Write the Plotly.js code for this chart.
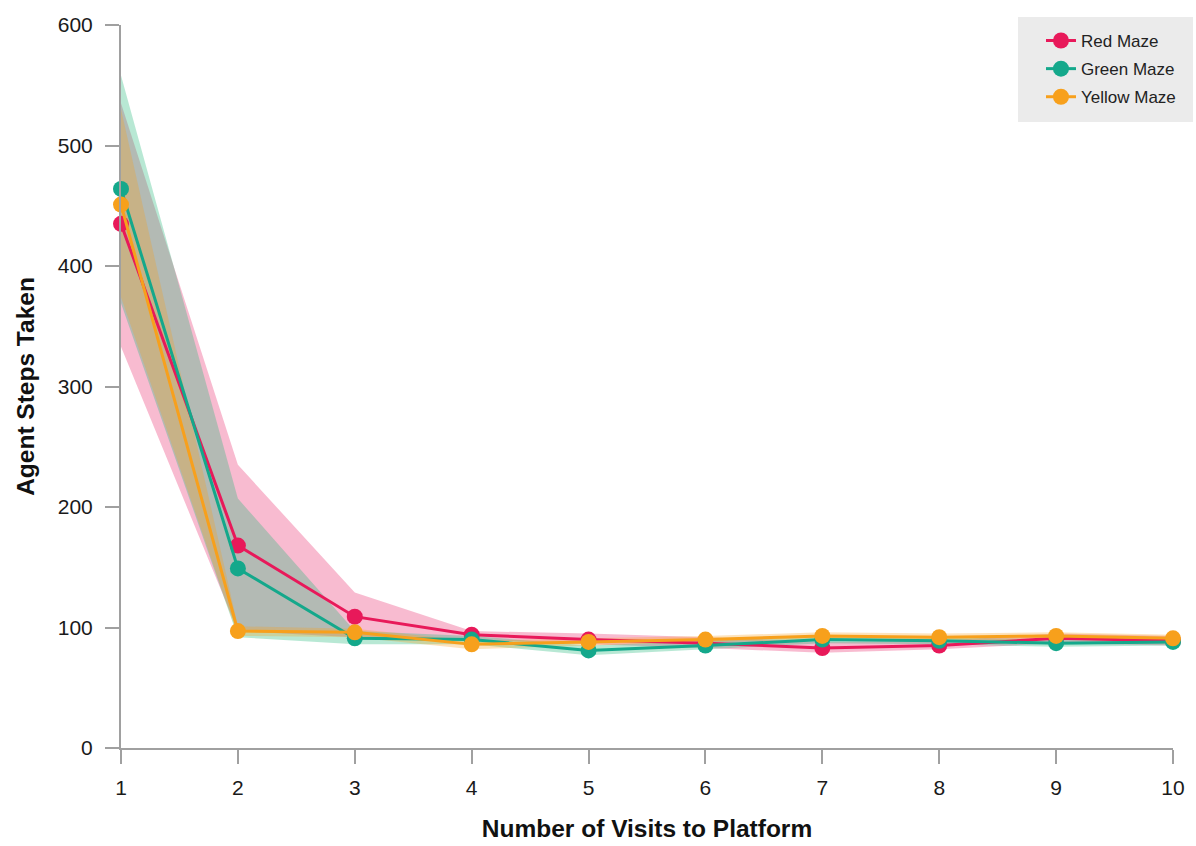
<!DOCTYPE html>
<html>
<head>
<meta charset="utf-8">
<script src="https://cdn.plot.ly/plotly-3.0.1.min.js"></script>
<style>
  html, body { margin: 0; padding: 0; background: #ffffff; }
  #chart { width: 1196px; height: 846px; }
</style>
</head>
<body>
<div id="chart"></div>
<script>
// Number of visits to the platform
const visits = [1, 2, 3, 4, 5, 6, 7, 8, 9, 10];

// Mean agent steps per maze
const redMean    = [435, 168, 109, 94, 90, 87, 83, 85, 91, 89];
const greenMean  = [464, 149, 91, 90, 81, 85, 90, 89, 87, 88];
const yellowMean = [451, 97, 96, 86, 88, 90, 93, 92, 93, 91];

// Spread around each mean (upper and lower edges of the shaded band)
const redUpper    = [535, 235, 129, 97, 95, 92, 88, 89, 95, 93];
const redLower    = [333, 97, 92, 90, 86, 83, 79, 82, 87, 85];
const greenUpper  = [558, 207, 97, 93, 85, 89, 93, 92, 90, 91];
const greenLower  = [369, 92, 86, 86, 77, 82, 87, 86, 84, 85];
const yellowUpper = [530, 101, 99, 89, 91, 93, 96, 95, 96, 94];
const yellowLower = [374, 93, 92, 82, 85, 88, 90, 89, 90, 88];

const seriesNames = ['Red Maze', 'Green Maze', 'Yellow Maze'];
const lineColors  = ['#e8195a', '#14a88b', '#f7a01c'];
const bandColors  = ['rgba(240,105,150,0.45)', 'rgba(40,185,125,0.33)', 'rgba(247,160,28,0.29)'];

const means  = [redMean, greenMean, yellowMean];
const uppers = [redUpper, greenUpper, yellowUpper];
const lowers = [redLower, greenLower, yellowLower];

const traces = [];

// Shaded bands first so the lines sit above them
for (let i = 0; i < 3; i++) {
  traces.push({
    x: visits.concat(visits.slice().reverse()),
    y: uppers[i].concat(lowers[i].slice().reverse()),
    type: 'scatter',
    mode: 'lines',
    fill: 'toself',
    fillcolor: bandColors[i],
    line: { width: 0, color: 'rgba(0,0,0,0)' },
    hoverinfo: 'skip',
    showlegend: false
  });
}

for (let i = 0; i < 3; i++) {
  traces.push({
    x: visits,
    y: means[i],
    name: seriesNames[i],
    legendgroup: 'g' + i,
    type: 'scatter',
    mode: 'lines+markers',
    line: { color: lineColors[i], width: 3 },
    marker: { color: lineColors[i], size: 16 },
    cliponaxis: false
  });
}

const family = 'Liberation Sans, Arial, Helvetica, sans-serif';
const axisFont = { family: family, size: 21, color: '#1a1a1a' };
const titleFont = { family: family, size: 24.5, color: '#111111', weight: 'bold' };

const layout = {
  width: 1196,
  height: 846,
  margin: { l: 121, r: 23, t: 25, b: 98, autoexpand: false },
  paper_bgcolor: '#ffffff',
  plot_bgcolor: '#ffffff',
  showlegend: true,
  // grey panel behind the legend entries
  shapes: [{
    type: 'rect',
    xref: 'paper', yref: 'paper',
    x0: 0.8527, x1: 1.019, y0: 0.8658, y1: 1.0111,
    fillcolor: '#ebebeb',
    line: { width: 0 },
    layer: 'below'
  }],
  xaxis: {
    range: [1, 10],
    tickvals: visits,
    ticktext: visits.map(String),
    showgrid: false,
    zeroline: false,
    showline: true,
    linecolor: '#a0a0a0',
    linewidth: 2,
    ticks: 'outside',
    ticklen: 14,
    tickwidth: 2,
    tickcolor: '#a0a0a0',
    tickfont: axisFont,
    ticklabelstandoff: 6,
    automargin: false,
    title: { text: 'Number of Visits to Platform', font: titleFont, standoff: 22 }
  },
  yaxis: {
    range: [0, 600],
    tickvals: [0, 100, 200, 300, 400, 500, 600],
    showgrid: false,
    zeroline: false,
    showline: true,
    linecolor: '#a0a0a0',
    linewidth: 2,
    ticks: 'outside',
    ticklen: 14,
    tickwidth: 2,
    tickcolor: '#a0a0a0',
    tickfont: axisFont,
    ticklabelstandoff: 8,
    automargin: false,
    title: { text: 'Agent Steps Taken', font: titleFont, standoff: 16 }
  },
  legend: {
    x: 0.8745,
    y: 1.0028,
    xanchor: 'left',
    yanchor: 'top',
    bgcolor: 'rgba(0,0,0,0)',
    borderwidth: 0,
    font: { family: family, size: 17, color: '#222222' },
    tracegroupgap: 3
  }
};

Plotly.newPlot('chart', traces, layout, { displayModeBar: false, staticPlot: true });
</script>
</body>
</html>
